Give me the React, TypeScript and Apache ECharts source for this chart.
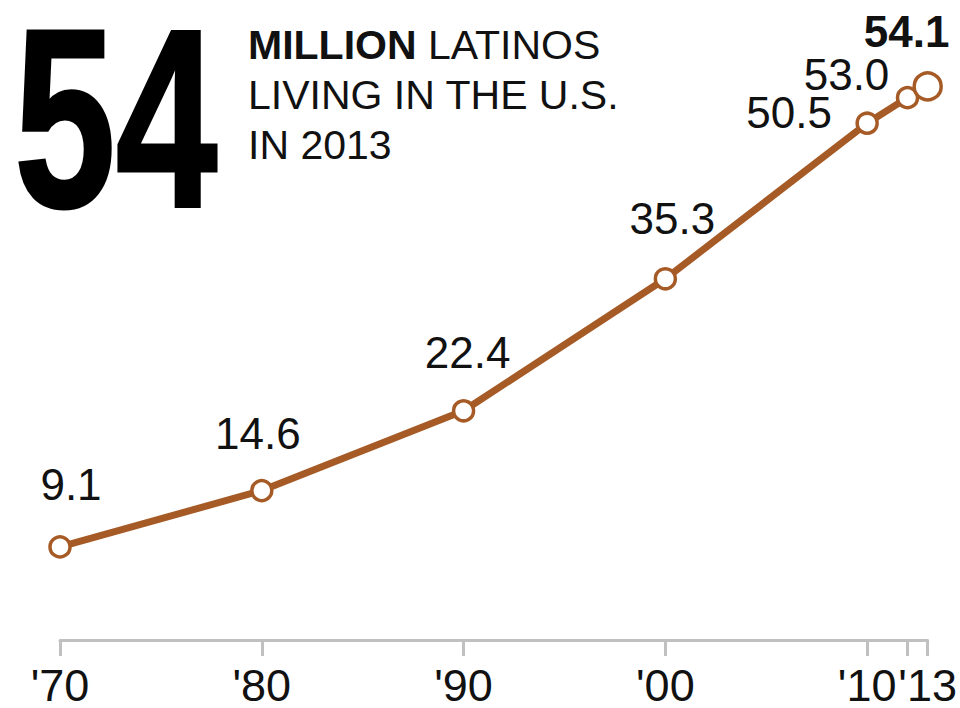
import React, { useEffect, useRef } from "react";
import * as echarts from "echarts";

const years = [1970, 1980, 1990, 2000, 2010, 2012, 2013];
const values = [9.1, 14.6, 22.4, 35.3, 50.5, 53.0, 54.1];
const valueLabels = ["9.1", "14.6", "22.4", "35.3", "50.5", "53.0", "54.1"];
const tickYears = [1970, 1980, 1990, 2000, 2010, 2012, 2013];
const labelYears = [1970, 1980, 1990, 2000, 2010, 2013];
const headline = "54";
const titleBold = "MILLION";
const titleLines = ["LATINOS", "LIVING IN THE U.S.", "IN 2013"];

// label placement relative to each point (style, not data)
const labelOffsets: [number, number][] = [
  [11, -62],
  [-4, -57],
  [4, -58],
  [7, -60],
  [-78, -11],
  [-61, -23],
  [-21, -55],
];

const BROWN = "#A65B26";
const FONT = "'Liberation Sans', Arial, sans-serif";

export default function App() {
  const ref = useRef<HTMLDivElement>(null);
  useEffect(() => {
    if (!ref.current) return;
    const chart = echarts.init(ref.current, null, { renderer: "svg" });
    const last = years.length - 1;
    const data = years.map((y, i) => ({
      value: [y, values[i]],
      symbolSize: i === last ? 27 : 20,
      label: {
        show: true,
        position: "inside",
        offset: labelOffsets[i],
        formatter: valueLabels[i],
        fontSize: 44,
        fontFamily: FONT,
        fontWeight: i === last ? "bold" : "normal",
        color: "#111",
        align: "center",
        verticalAlign: "middle",
      },
    }));
    chart.setOption({
      animation: false,
      backgroundColor: "#fff",
      grid: { left: 60, right: 28, top: 26, bottom: 66 },
      xAxis: {
        type: "value",
        min: 1970,
        max: 2013,
        splitLine: { show: false },
        axisLine: { show: true, lineStyle: { color: "#c0c0c0", width: 3 } },
        axisTick: {
          show: true,
          customValues: tickYears,
          length: 16,
          lineStyle: { color: "#c0c0c0", width: 3 },
        },
        axisLabel: {
          customValues: labelYears,
          formatter: (v: number) => "'" + String(v).slice(2),
          fontSize: 45,
          fontFamily: FONT,
          color: "#111",
          margin: 23,
          showMinLabel: true,
          showMaxLabel: true,
        },
      },
      yAxis: {
        type: "value",
        min: 0,
        max: 60,
        show: false,
        splitLine: { show: false },
      },
      series: [
        {
          type: "line",
          data,
          symbol: "circle",
          lineStyle: { color: BROWN, width: 7 },
          itemStyle: { color: "#fff", borderColor: BROWN, borderWidth: 3.5 },
          z: 3,
        },
      ],
      graphic: [
        {
          type: "text",
          x: 14,
          y: 119,
          scaleX: 0.72,
          style: {
            text: headline,
            font: "bold 254px " + FONT,
            fill: "#000",
            stroke: "#000",
            lineWidth: 3,
            verticalAlign: "middle",
            align: "left",
          },
        },
        {
          type: "text",
          x: 248,
          y: 95,
          style: {
            text:
              "{b|" + titleBold + "\u00a0}{r|" + titleLines[0] + "}\n{r|" + titleLines[1] + "}\n{r|" + titleLines[2] + "}",
            verticalAlign: "middle",
            align: "left",
            lineHeight: 50,
            rich: {
              b: { fontSize: 41, fontWeight: "bold", fontFamily: FONT, fill: "#111", lineHeight: 50 },
              r: { fontSize: 41, fontWeight: "normal", fontFamily: FONT, fill: "#111", lineHeight: 50 },
            },
          },
        },
      ],
    });
    return () => chart.dispose();
  }, []);
  return <div ref={ref} style={{ width: 960, height: 708, position: "absolute", left: 0, top: 0 }} />;
}
